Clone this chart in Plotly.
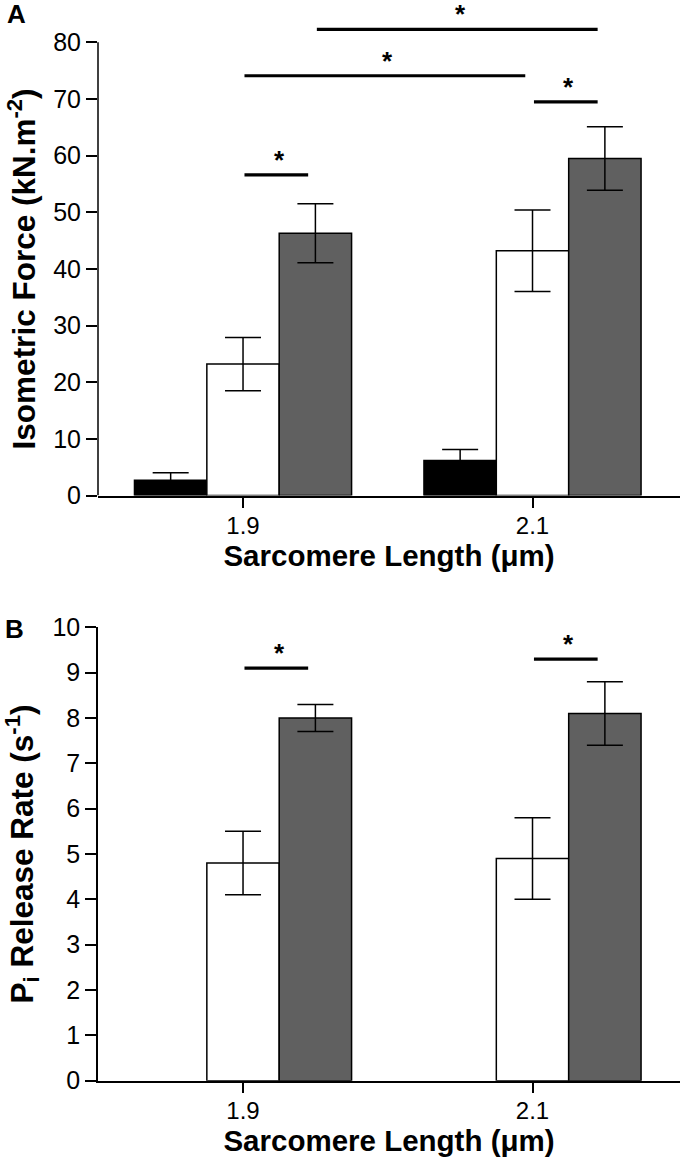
import plotly.graph_objects as go

# ---------------- data ----------------
lengths = [1.9, 2.1]
length_labels = ["1.9", "2.1"]

# Panel A: isometric force (kN.m^-2)
force_black = [2.7, 6.2]
force_black_err = [1.3, 1.9]
force_white = [23.2, 43.2]
force_white_err = [4.7, 7.2]
force_gray = [46.3, 59.5]
force_gray_err = [5.2, 5.6]
force_ticks = [0, 10, 20, 30, 40, 50, 60, 70, 80]

# Panel B: Pi release rate (s^-1)
rate_white = [4.8, 4.9]
rate_white_err = [0.7, 0.9]
rate_gray = [8.0, 8.1]
rate_gray_err = [0.3, 0.7]
rate_ticks = [0, 1, 2, 3, 4, 5, 6, 7, 8, 9, 10]

# significance comparisons: (series, group, series, group, level)
sig_A = [("white", 0, "gray", 0, 56.6),
         ("white", 0, "white", 1, 74.1),
         ("gray", 0, "gray", 1, 82.3),
         ("white", 1, "gray", 1, 69.5)]
sig_B = [("white", 0, "gray", 0, 9.1),
         ("white", 1, "gray", 1, 9.3)]

# ---------------- style ----------------
FONT = "Liberation Sans, Arial, sans-serif"
W, H = 680, 1159
BAR_W = 0.05
OFFSETS = {"black": -0.075, "white": -0.025, "gray": 0.025}
COLORS = {"black": "#000000", "white": "#ffffff", "gray": "#606060"}

fig = go.Figure()


def add_bars(series, values, errors, xa, ya):
    fig.add_trace(go.Bar(
        x=lengths, y=values, width=BAR_W, offset=OFFSETS[series],
        marker=dict(color=COLORS[series], line=dict(color="black", width=1.5)),
        error_y=dict(type="data", array=errors, color="black", thickness=1.5, width=18),
        xaxis=xa, yaxis=ya, showlegend=False, hoverinfo="y",
    ))


add_bars("black", force_black, force_black_err, "x", "y")
add_bars("white", force_white, force_white_err, "x", "y")
add_bars("gray", force_gray, force_gray_err, "x", "y")
add_bars("white", rate_white, rate_white_err, "x2", "y2")
add_bars("gray", rate_gray, rate_gray_err, "x2", "y2")


def center(series, group):
    return lengths[group] + OFFSETS[series] + BAR_W / 2


shapes = []
annotations = []


def add_sig(sigs, xr, yr):
    for s1, g1, s2, g2, lvl in sigs:
        x0 = center(s1, g1) + 0.001
        x1 = center(s2, g2) - 0.005
        shapes.append(dict(type="line", xref=xr, yref=yr, x0=x0, x1=x1, y0=lvl, y1=lvl,
                           line=dict(color="black", width=3.2)))
        annotations.append(dict(text="*", xref=xr, yref=yr, x=(x0 + x1) / 2, y=lvl,
                                xshift=3, yshift=15, showarrow=False, xanchor="center", yanchor="middle",
                                font=dict(family=FONT, size=26, color="black", weight="bold")))


add_sig(sig_A, "x", "y")
add_sig(sig_B, "x2", "y2")

# y-axis line of panel A ends at the top tick
shapes.append(dict(type="line", xref="x domain", yref="y", x0=0, x1=0,
                   y0=force_ticks[0], y1=force_ticks[-1], line=dict(color="black", width=1.5)))

# y-axis titles
annotations.append(dict(text="Isometric Force (kN.m<sup>-2</sup>)", textangle=-90,
                        xref="paper", yref="y", x=21.5 / W, y=(force_ticks[0] + force_ticks[-1]) / 2,
                        xanchor="center", yanchor="middle", showarrow=False,
                        font=dict(family=FONT, size=31.5, color="black", weight="bold")))
annotations.append(dict(text="P<sub>i</sub> Release Rate (s<sup>-1</sup>)", textangle=-90,
                        xref="paper", yref="y2", x=21.5 / W, y=(rate_ticks[0] + rate_ticks[-1]) / 2,
                        xanchor="center", yanchor="middle", showarrow=False,
                        font=dict(family=FONT, size=31.5, color="black", weight="bold")))
# panel letters
annotations.append(dict(text="A", xref="paper", yref="paper", x=16.5 / W, y=1 - 14 / H,
                        xanchor="center", yanchor="middle", showarrow=False,
                        font=dict(family=FONT, size=26, color="black", weight="bold")))
annotations.append(dict(text="B", xref="paper", yref="paper", x=14.5 / W, y=1 - 629 / H,
                        xanchor="center", yanchor="middle", showarrow=False,
                        font=dict(family=FONT, size=26, color="black", weight="bold")))

xcommon = dict(range=[1.7998, 2.2019], domain=[98 / W, 1], tickvals=lengths, ticktext=length_labels,
               ticks="outside", ticklen=11, tickwidth=1.5, tickcolor="black", automargin=False,
               showline=True, linecolor="black", linewidth=1.5, showgrid=False, zeroline=False,
               tickfont=dict(family=FONT, size=24, color="black"), ticklabelstandoff=-3,
               title=dict(text="Sarcomere Length (μm)", standoff=4,
                          font=dict(family=FONT, size=29.5, color="black", weight="bold")))
ycommon = dict(ticks="outside", ticklen=11, tickwidth=1.5, tickcolor="black", automargin=False,
               showgrid=False, zeroline=False, linecolor="black", linewidth=1.5,
               tickfont=dict(family=FONT, size=25, color="black"))

fig.update_layout(
    width=W, height=H, margin=dict(l=0, r=0, t=0, b=0, autoexpand=False),
    paper_bgcolor="white", plot_bgcolor="white", barmode="overlay",
    xaxis=dict(**xcommon, anchor="y"),
    xaxis2=dict(**xcommon, anchor="y2"),
    yaxis=dict(**ycommon, anchor="x", domain=[1 - 495.5 / H, 1 - 22.5 / H], range=[0, 83.5],
               tickvals=force_ticks, showline=False),
    yaxis2=dict(**ycommon, anchor="x2", domain=[1 - 1080.7 / H, 1 - 627.3 / H], range=[0, 10],
                tickvals=rate_ticks, showline=True),
    shapes=shapes, annotations=annotations,
)

fig.write_html("out.html", config={"displayModeBar": False},
               post_script="document.body.style.margin='0';")
